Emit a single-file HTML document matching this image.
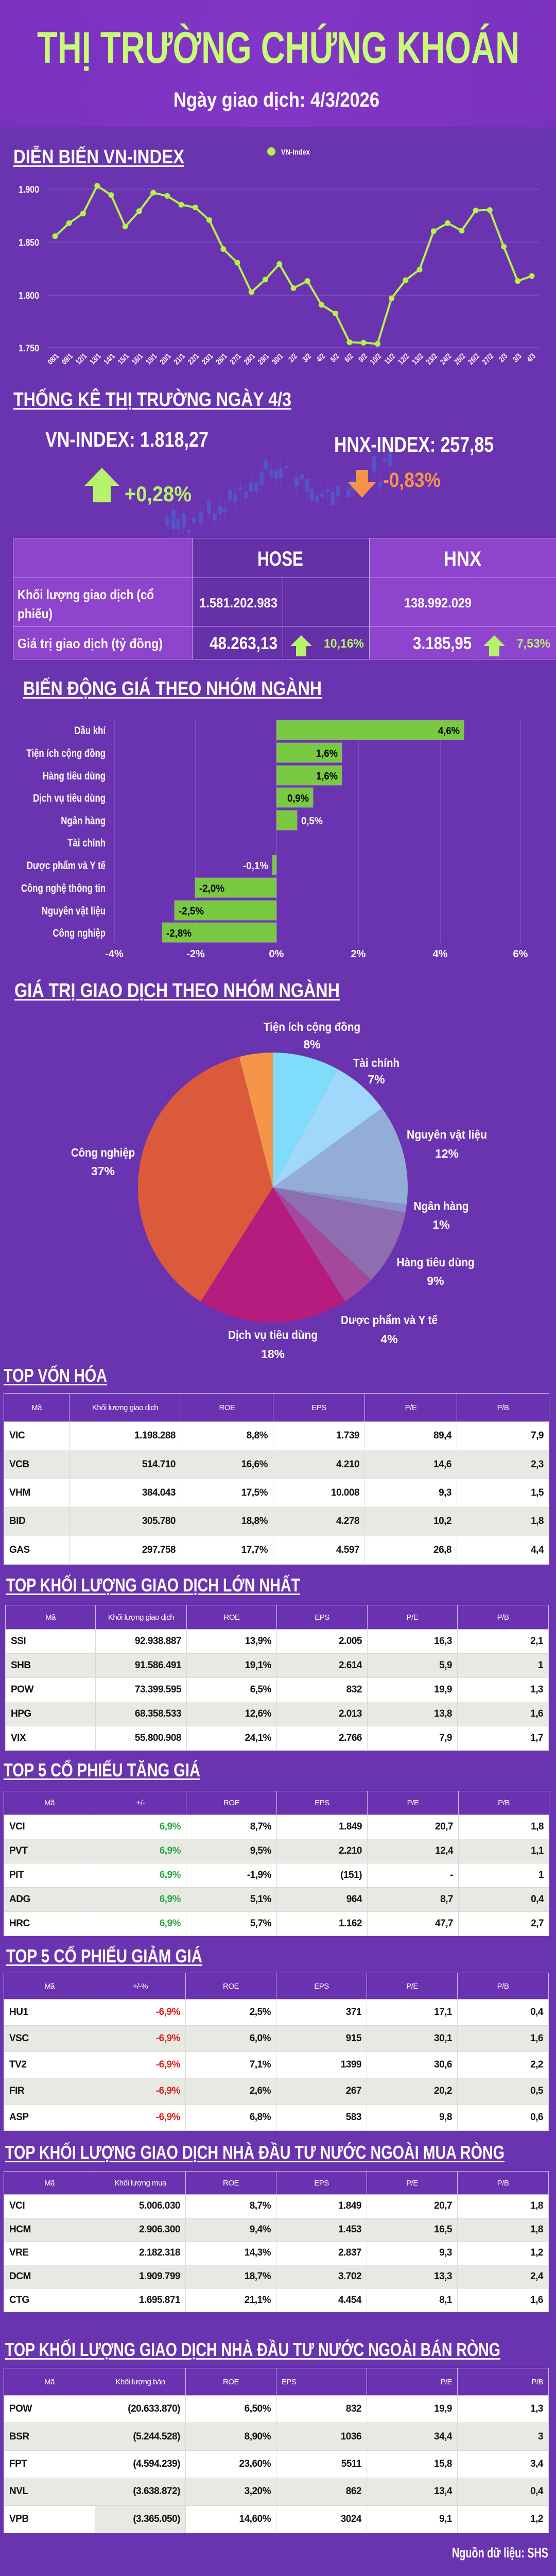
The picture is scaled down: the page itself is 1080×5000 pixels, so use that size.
<!DOCTYPE html>
<html><head><meta charset="utf-8">
<style>
*{margin:0;padding:0;box-sizing:border-box}
body{width:1080px;height:5000px;background:#6a34b0;position:relative;overflow:hidden;font-family:"Liberation Sans Narrow","Liberation Sans","Noto Sans CJK SC",sans-serif;font-weight:bold;color:#fff}
.a{position:absolute;white-space:nowrap}
.fit{transform-origin:0 0}
.st{position:absolute;font-size:38px;line-height:1;text-decoration:underline;text-decoration-thickness:3px;text-underline-offset:4px;color:#fff;white-space:nowrap}
table{position:absolute;border-collapse:collapse;table-layout:fixed}
table.d td{border:1px solid #d9d9d9;font-size:19px;color:#111;text-align:right;padding:0 10px;background:#fff;white-space:nowrap;letter-spacing:-0.5px}
table.d tr:nth-child(odd) td{background:#e6eae3}
table.d tr.h td{background:#6a32b0;color:#fff;text-align:center;font-size:15px;font-weight:normal;border:1px solid #c9b6e6}
table.d td:first-child{text-align:left}
table.d tr.h td:first-child{text-align:center}
.g{color:#2aa84a!important}.r{color:#e0201b!important}
</style></head><body>
<!-- header -->
<div class="a" style="left:0;top:0;width:1080px;height:247px;background:linear-gradient(90deg,#7a31bf,#8336c6 50%,#7a31bf);"></div>
<div class="a fit" style="left:72px;top:50px;font-size:86px;color:#c8fb77;line-height:1;--w:937">THỊ TRƯỜNG CHỨNG KHOÁN</div>
<div class="a fit" style="left:337px;top:174px;font-size:40px;color:#fff;line-height:1;--w:400">Ngày giao dịch: 4/3/2026</div>

<!-- VN-Index chart -->
<div class="st fit" style="left:26px;top:286px;--w:332">DIỄN BIẾN VN-INDEX</div>
<svg class="a" style="left:0;top:0" width="1080" height="730">
<circle cx="527" cy="294" r="8" fill="#b5f24a"/>
<text x="546" y="300" font-size="15" fill="#fff" font-family="Liberation Sans,sans-serif" textLength="56" lengthAdjust="spacingAndGlyphs">VN-Index</text>
<g stroke="#8b5fcb" stroke-width="1"><line x1="93" y1="367" x2="1047" y2="367"/><line x1="93" y1="470" x2="1047" y2="470"/><line x1="93" y1="573" x2="1047" y2="573"/><line x1="93" y1="675" x2="1047" y2="675"/></g>
<g font-size="18" fill="#fff" font-family="Liberation Sans,sans-serif" font-weight="bold"><text x="36" y="374" textLength="40" lengthAdjust="spacingAndGlyphs">1.900</text><text x="36" y="477" textLength="40" lengthAdjust="spacingAndGlyphs">1.850</text><text x="36" y="580" textLength="40" lengthAdjust="spacingAndGlyphs">1.800</text><text x="36" y="682" textLength="40" lengthAdjust="spacingAndGlyphs">1.750</text></g>
<polyline fill="none" stroke="#b5f24a" stroke-width="4" stroke-linejoin="round" points="107,458.5 134.2,433 161.5,414.3 188.7,360.7 215.9,378.6 243.2,439.7 270.4,409.8 297.6,374.1 324.8,380.4 352.1,397.3 379.3,402.7 406.5,427.2 433.8,483.5 461,509.8 488.2,567 515.5,542.4 542.7,512.5 569.9,559.4 597.2,545.5 624.4,591.5 651.6,608.5 678.9,664.3 706.1,665.2 733.3,667.4 760.5,579 787.8,543.8 815,523.2 842.2,448.7 869.5,433 896.7,447.8 923.9,408.5 951.2,407.6 978.4,478.6 1005.6,545.5 1033,535.7"/>
<g fill="#b5f24a" id="pts"></g>
<g font-size="15" fill="#fff" font-family="Liberation Sans,sans-serif" font-weight="bold" text-anchor="end" id="xl"></g>
</svg>

<!-- stats -->
<div class="st fit" style="left:26px;top:757px;--w:540">THỐNG KÊ THỊ TRƯỜNG NGÀY 4/3</div>
<svg class="a" style="left:0;top:860px" width="1080" height="190" id="candles"></svg>
<div class="a fit" style="left:88px;top:832px;font-size:42px;line-height:1;--w:317">VN-INDEX: 1.818,27</div>
<div class="a fit" style="left:649px;top:842px;font-size:42px;line-height:1;--w:310">HNX-INDEX: 257,85</div>
<svg class="a" style="left:160px;top:905px" width="80" height="75"><polygon points="38,3 72,38 55,38 55,70 21,70 21,38 4,38" fill="#b6f36b"/></svg>
<div class="a fit" style="left:242px;top:938px;font-size:42px;color:#b6f36b;line-height:1;--w:130">+0,28%</div>
<svg class="a" style="left:675px;top:910px" width="60" height="60"><polygon points="16,2 40,2 40,26 55,26 28,56 1,26 16,26" fill="#f7924a"/></svg>
<div class="a fit" style="left:744px;top:912px;font-size:40px;color:#f7924a;line-height:1;--w:112">-0,83%</div>

<!-- stats table -->
<div class="a" style="left:25px;top:1044px;width:1055px;height:236px;border-top:2px solid #c7a8ea;border-left:2px solid #c7a8ea;border-bottom:2px solid #c7a8ea"></div>
<div class="a" style="left:26px;top:1045px;width:347px;height:234px;background:#8e44cc"></div>
<div class="a" style="left:373px;top:1045px;width:344px;height:234px;background:#6530a8"></div>
<div class="a" style="left:717px;top:1045px;width:363px;height:234px;background:#8e44cc"></div>
<div class="a" style="left:373px;top:1044px;width:1px;height:236px;background:#c7a8ea"></div>
<div class="a" style="left:717px;top:1044px;width:1px;height:236px;background:#c7a8ea"></div>
<div class="a" style="left:549px;top:1121px;width:1px;height:159px;background:#c7a8ea"></div>
<div class="a" style="left:926px;top:1121px;width:1px;height:159px;background:#c7a8ea"></div>
<div class="a" style="left:25px;top:1121px;width:1055px;height:1px;background:#c7a8ea"></div>
<div class="a" style="left:25px;top:1215px;width:1055px;height:1px;background:#c7a8ea"></div>
<div class="a fit" style="left:500px;top:1065px;font-size:40px;line-height:1;--w:89">HOSE</div>
<div class="a fit" style="left:862px;top:1065px;font-size:40px;line-height:1;--w:73">HNX</div>
<div class="a fit" style="left:34px;top:1141px;font-size:26px;line-height:1;--w:265">Khối lượng giao dịch (cổ</div>
<div class="a fit" style="left:34px;top:1178px;font-size:26px;line-height:1;--w:68">phiếu)</div>
<div class="a fit" style="left:34px;top:1236px;font-size:26px;line-height:1;--w:282">Giá trị giao dịch (tỷ đồng)</div>
<div class="a fit" style="left:387px;top:1157px;font-size:26px;line-height:1;--w:152">1.581.202.983</div>
<div class="a fit" style="left:785px;top:1157px;font-size:26px;line-height:1;--w:131">138.992.029</div>
<div class="a fit" style="left:407px;top:1232px;font-size:34px;line-height:1;--w:132">48.263,13</div>
<div class="a fit" style="left:802px;top:1232px;font-size:34px;line-height:1;--w:114">3.185,95</div>
<svg class="a" style="left:563px;top:1232px" width="46" height="44"><polygon points="22,1 43,22 32,22 32,42 12,42 12,22 1,22" fill="#b6f36b"/></svg>
<div class="a fit" style="left:629px;top:1238px;font-size:24px;color:#b6f36b;line-height:1;--w:78">10,16%</div>
<svg class="a" style="left:938px;top:1232px" width="46" height="44"><polygon points="22,1 43,22 32,22 32,42 12,42 12,22 1,22" fill="#b6f36b"/></svg>
<div class="a fit" style="left:1004px;top:1238px;font-size:24px;color:#b6f36b;line-height:1;--w:65">7,53%</div>

<!-- sector bars -->
<div class="st fit" style="left:45px;top:1318px;--w:580">BIẾN ĐỘNG GIÁ THEO NHÓM NGÀNH</div>
<svg class="a" style="left:0;top:1380px" width="1080" height="500" font-family="Liberation Sans,sans-serif" font-weight="bold">
<g stroke="#8b5fcb"><line x1="222" y1="17" x2="222" y2="450"/><line x1="380" y1="17" x2="380" y2="450"/><line x1="537" y1="17" x2="537" y2="450"/><line x1="696" y1="17" x2="696" y2="450"/><line x1="855" y1="17" x2="855" y2="450"/><line x1="1011" y1="17" x2="1011" y2="450"/></g>
<g fill="#7ac943" stroke="#9a9a9a" stroke-width="1">
<rect x="537" y="18" width="364" height="38"/><rect x="537" y="62" width="127" height="38"/><rect x="537" y="106" width="127" height="38"/><rect x="537" y="149" width="71" height="38"/><rect x="537" y="193" width="40" height="38"/><rect x="529" y="280" width="8" height="38"/><rect x="379" y="324" width="158" height="38"/><rect x="339" y="368" width="198" height="38"/><rect x="315" y="411" width="222" height="38"/></g>
<g font-size="21" fill="#fff" text-anchor="end" transform="translate(205,0) scale(0.8,1) translate(-205,0)"><text x="205" y="45">Dầu khí</text><text x="205" y="89">Tiện ích cộng đồng</text><text x="205" y="133">Hàng tiêu dùng</text><text x="205" y="176">Dịch vụ tiêu dùng</text><text x="205" y="220">Ngân hàng</text><text x="205" y="263">Tài chính</text><text x="205" y="307">Dược phẩm và Y tế</text><text x="205" y="351">Công nghệ thông tin</text><text x="205" y="395">Nguyên vật liệu</text><text x="205" y="438">Công nghiệp</text></g>
<g font-size="20" fill="#000"><text x="893" y="45" text-anchor="end" textLength="42" lengthAdjust="spacingAndGlyphs">4,6%</text><text x="656" y="89" text-anchor="end" textLength="42" lengthAdjust="spacingAndGlyphs">1,6%</text><text x="656" y="133" text-anchor="end" textLength="42" lengthAdjust="spacingAndGlyphs">1,6%</text><text x="600" y="176" text-anchor="end" textLength="42" lengthAdjust="spacingAndGlyphs">0,9%</text><text x="387" y="351" textLength="49" lengthAdjust="spacingAndGlyphs">-2,0%</text><text x="347" y="395" textLength="49" lengthAdjust="spacingAndGlyphs">-2,5%</text><text x="323" y="438" textLength="49" lengthAdjust="spacingAndGlyphs">-2,8%</text></g>
<g font-size="20" fill="#fff"><text x="585" y="220" textLength="42" lengthAdjust="spacingAndGlyphs">0,5%</text><text x="472" y="307" textLength="49" lengthAdjust="spacingAndGlyphs">-0,1%</text></g>
<g font-size="20" fill="#fff" text-anchor="middle"><text x="222" y="478">-4%</text><text x="380" y="478">-2%</text><text x="537" y="478">0%</text><text x="696" y="478">2%</text><text x="855" y="478">4%</text><text x="1011" y="478">6%</text></g>
</svg>

<!-- pie -->
<div class="st fit" style="left:28px;top:1904px;--w:632">GIÁ TRỊ GIAO DỊCH THEO NHÓM NGÀNH</div>
<svg class="a" style="left:0;top:0" width="1080" height="2700" font-family="Liberation Sans,sans-serif" font-weight="bold">
<path d="M530,2305 L530,2043 A262,262 0 0 1 656.2,2075.4Z" fill="#7fdcfb"/>
<path d="M530,2305 L656.2,2075.4 A262,262 0 0 1 742,2151Z" fill="#a0d8fb"/>
<path d="M530,2305 L742,2151 A262,262 0 0 1 789.9,2337.8Z" fill="#93aed6"/>
<path d="M530,2305 L789.9,2337.8 A262,262 0 0 1 787.4,2354.1Z" fill="#8890c8"/>
<path d="M530,2305 L787.4,2354.1 A262,262 0 0 1 721,2484.3Z" fill="#8e6db0"/>
<path d="M530,2305 L721,2484.3 A262,262 0 0 1 670.4,2526.2Z" fill="#a4479d"/>
<path d="M530,2305 L670.4,2526.2 A262,262 0 0 1 389.6,2526.2Z" fill="#b51c7e"/>
<path d="M530,2305 L389.6,2526.2 A262,262 0 0 1 464.8,2051.2Z" fill="#dc5a3c"/>
<path d="M530,2305 L464.8,2051.2 A262,262 0 0 1 530,2043Z" fill="#f5954a"/>
<g font-size="23" fill="#fff" text-anchor="middle">
<text x="606" y="2001" textLength="188" lengthAdjust="spacingAndGlyphs">Tiện ích cộng đồng</text><text x="606" y="2035">8%</text>
<text x="731" y="2071" textLength="90" lengthAdjust="spacingAndGlyphs">Tài chính</text><text x="731" y="2103">7%</text>
<text x="868" y="2210" textLength="156" lengthAdjust="spacingAndGlyphs">Nguyên vật liệu</text><text x="868" y="2247">12%</text>
<text x="857" y="2349" textLength="107" lengthAdjust="spacingAndGlyphs">Ngân hàng</text><text x="857" y="2385">1%</text>
<text x="846" y="2458" textLength="151" lengthAdjust="spacingAndGlyphs">Hàng tiêu dùng</text><text x="846" y="2494">9%</text>
<text x="756" y="2570" textLength="188" lengthAdjust="spacingAndGlyphs">Dược phẩm và Y tế</text><text x="756" y="2607">4%</text>
<text x="530" y="2599" textLength="174" lengthAdjust="spacingAndGlyphs">Dịch vụ tiêu dùng</text><text x="530" y="2636">18%</text>
<text x="200" y="2245" textLength="124" lengthAdjust="spacingAndGlyphs">Công nghiệp</text><text x="200" y="2281">37%</text>
</g></svg>

<!-- Top von hoa -->
<div class="st fit" style="left:7px;top:2652px;font-size:36px;--w:201">TOP VỐN HÓA</div>
<table class="d" style="left:7px;top:2704px;width:1059px">
<colgroup><col style="width:127px"><col style="width:217px"><col style="width:179px"><col style="width:178px"><col style="width:179px"><col style="width:179px"></colgroup>
<tr class="h" style="height:55px"><td>Mã</td><td>Khối lượng giao dịch</td><td>ROE</td><td>EPS</td><td>P/E</td><td>P/B</td></tr>
<tr style="height:55.4px"><td>VIC</td><td>1.198.288</td><td>8,8%</td><td>1.739</td><td>89,4</td><td>7,9</td></tr>
<tr style="height:55.4px"><td>VCB</td><td>514.710</td><td>16,6%</td><td>4.210</td><td>14,6</td><td>2,3</td></tr>
<tr style="height:55.4px"><td>VHM</td><td>384.043</td><td>17,5%</td><td>10.008</td><td>9,3</td><td>1,5</td></tr>
<tr style="height:55.4px"><td>BID</td><td>305.780</td><td>18,8%</td><td>4.278</td><td>10,2</td><td>1,8</td></tr>
<tr style="height:55.4px"><td>GAS</td><td>297.758</td><td>17,7%</td><td>4.597</td><td>26,8</td><td>4,4</td></tr>
</table>

<div class="st fit" style="left:12px;top:3059px;font-size:36px;--w:571">TOP KHỐI LƯỢNG GIAO DỊCH LỚN NHẤT</div>
<table class="d" style="left:10px;top:3115px;width:1055px">
<colgroup><col style="width:175px"><col style="width:177px"><col style="width:175px"><col style="width:176px"><col style="width:175px"><col style="width:177px"></colgroup>
<tr class="h" style="height:47px"><td>Mã</td><td>Khối lượng giao dịch</td><td>ROE</td><td>EPS</td><td>P/E</td><td>P/B</td></tr>
<tr style="height:47px"><td>SSI</td><td>92.938.887</td><td>13,9%</td><td>2.005</td><td>16,3</td><td>2,1</td></tr>
<tr style="height:47px"><td>SHB</td><td>91.586.491</td><td>19,1%</td><td>2.614</td><td>5,9</td><td>1</td></tr>
<tr style="height:47px"><td>POW</td><td>73.399.595</td><td>6,5%</td><td>832</td><td>19,9</td><td>1,3</td></tr>
<tr style="height:47px"><td>HPG</td><td>68.358.533</td><td>12,6%</td><td>2.013</td><td>13,8</td><td>1,6</td></tr>
<tr style="height:47px"><td>VIX</td><td>55.800.908</td><td>24,1%</td><td>2.766</td><td>7,9</td><td>1,7</td></tr>
</table>

<div class="st fit" style="left:7px;top:3418px;font-size:36px;--w:382">TOP 5 CỔ PHIẾU TĂNG GIÁ</div>
<table class="d" style="left:7px;top:3476px;width:1059px">
<colgroup><col style="width:177px"><col style="width:177px"><col style="width:176px"><col style="width:176px"><col style="width:177px"><col style="width:176px"></colgroup>
<tr class="h" style="height:46px"><td>Mã</td><td>+/-</td><td>ROE</td><td>EPS</td><td>P/E</td><td>P/B</td></tr>
<tr style="height:47px"><td>VCI</td><td class="g">6,9%</td><td>8,7%</td><td>1.849</td><td>20,7</td><td>1,8</td></tr>
<tr style="height:47px"><td>PVT</td><td class="g">6,9%</td><td>9,5%</td><td>2.210</td><td>12,4</td><td>1,1</td></tr>
<tr style="height:47px"><td>PIT</td><td class="g">6,9%</td><td>-1,9%</td><td>(151)</td><td>-</td><td>1</td></tr>
<tr style="height:47px"><td>ADG</td><td class="g">6,9%</td><td>5,1%</td><td>964</td><td>8,7</td><td>0,4</td></tr>
<tr style="height:47px"><td>HRC</td><td class="g">6,9%</td><td>5,7%</td><td>1.162</td><td>47,7</td><td>2,7</td></tr>
</table>

<div class="st fit" style="left:12px;top:3779px;font-size:36px;--w:381">TOP 5 CỔ PHIẾU GIẢM GIÁ</div>
<table class="d" style="left:7px;top:3829px;width:1058px">
<colgroup><col style="width:177px"><col style="width:176px"><col style="width:176px"><col style="width:176px"><col style="width:176px"><col style="width:177px"></colgroup>
<tr class="h" style="height:51px"><td>Mã</td><td>+/-%</td><td>ROE</td><td>EPS</td><td>P/E</td><td>P/B</td></tr>
<tr style="height:51px"><td>HU1</td><td class="r">-6,9%</td><td>2,5%</td><td>371</td><td>17,1</td><td>0,4</td></tr>
<tr style="height:51px"><td>VSC</td><td class="r">-6,9%</td><td>6,0%</td><td>915</td><td>30,1</td><td>1,6</td></tr>
<tr style="height:51px"><td>TV2</td><td class="r">-6,9%</td><td>7,1%</td><td>1399</td><td>30,6</td><td>2,2</td></tr>
<tr style="height:51px"><td>FIR</td><td class="r">-6,9%</td><td>2,6%</td><td>267</td><td>20,2</td><td>0,5</td></tr>
<tr style="height:51px"><td>ASP</td><td class="r">-6,9%</td><td>6,8%</td><td>583</td><td>9,8</td><td>0,6</td></tr>
</table>

<div class="st fit" style="left:10px;top:4160px;font-size:36px;--w:970">TOP KHỐI LƯỢNG GIAO DỊCH NHÀ ĐẦU TƯ NƯỚC NGOÀI MUA RÒNG</div>
<table class="d" style="left:7px;top:4214px;width:1058px">
<colgroup><col style="width:177px"><col style="width:176px"><col style="width:176px"><col style="width:176px"><col style="width:176px"><col style="width:177px"></colgroup>
<tr class="h" style="height:45px"><td>Mã</td><td>Khối lượng mua</td><td>ROE</td><td>EPS</td><td>P/E</td><td>P/B</td></tr>
<tr style="height:45.6px"><td>VCI</td><td>5.006.030</td><td>8,7%</td><td>1.849</td><td>20,7</td><td>1,8</td></tr>
<tr style="height:45.6px"><td>HCM</td><td>2.906.300</td><td>9,4%</td><td>1.453</td><td>16,5</td><td>1,8</td></tr>
<tr style="height:45.6px"><td>VRE</td><td>2.182.318</td><td>14,3%</td><td>2.837</td><td>9,3</td><td>1,2</td></tr>
<tr style="height:45.6px"><td>DCM</td><td>1.909.799</td><td>18,7%</td><td>3.702</td><td>13,3</td><td>2,4</td></tr>
<tr style="height:45.6px"><td>CTG</td><td>1.695.871</td><td>21,1%</td><td>4.454</td><td>8,1</td><td>1,6</td></tr>
</table>

<div class="st fit" style="left:10px;top:4543px;font-size:36px;--w:962">TOP KHỐI LƯỢNG GIAO DỊCH NHÀ ĐẦU TƯ NƯỚC NGOÀI BÁN RÒNG</div>
<table class="d" style="left:7px;top:4596px;width:1058px">
<colgroup><col style="width:177px"><col style="width:176px"><col style="width:176px"><col style="width:176px"><col style="width:176px"><col style="width:177px"></colgroup>
<tr class="h" style="height:53px"><td>Mã</td><td>Khối lượng bán</td><td>ROE</td><td style="text-align:left">EPS</td><td style="text-align:right">P/E</td><td style="text-align:right">P/B</td></tr>
<tr style="height:53.4px"><td>POW</td><td>(20.633.870)</td><td>6,50%</td><td>832</td><td>19,9</td><td>1,3</td></tr>
<tr style="height:53.4px"><td>BSR</td><td>(5.244.528)</td><td>8,90%</td><td>1036</td><td>34,4</td><td>3</td></tr>
<tr style="height:53.4px"><td>FPT</td><td>(4.594.239)</td><td>23,60%</td><td>5511</td><td>15,8</td><td>3,4</td></tr>
<tr style="height:53.4px"><td>NVL</td><td>(3.638.872)</td><td>3,20%</td><td>862</td><td>13,4</td><td>0,4</td></tr>
<tr style="height:53.4px"><td>VPB</td><td style="background:#e6eae3">(3.365.050)</td><td>14,60%</td><td>3024</td><td>9,1</td><td>1,2</td></tr>
</table>

<div class="a fit" style="left:878px;top:4942px;font-size:27px;line-height:1;--w:187">Nguồn dữ liệu: SHS</div>

<script>
(function(){
var ys=[458.5,433,414.3,360.7,378.6,439.7,409.8,374.1,380.4,397.3,402.7,427.2,483.5,509.8,567,542.4,512.5,559.4,545.5,591.5,608.5,664.3,665.2,667.4,579,543.8,523.2,448.7,433,447.8,408.5,407.6,478.6,545.5,535.7];
var lb=["08/1","09/1","12/1","13/1","14/1","15/1","16/1","19/1","20/1","21/1","22/1","23/1","26/1","27/1","28/1","29/1","30/1","2/2","3/2","4/2","5/2","6/2","9/2","10/2","11/2","12/2","13/2","23/2","24/2","25/2","26/2","27/2","2/3","3/3","4/3"];
var ns="http://www.w3.org/2000/svg",p=document.getElementById("pts"),xl=document.getElementById("xl");
for(var i=0;i<35;i++){var x=107+i*(926/34);
var c=document.createElementNS(ns,"circle");c.setAttribute("cx",x);c.setAttribute("cy",ys[i]);c.setAttribute("r",5.5);p.appendChild(c);
var t=document.createElementNS(ns,"text");t.setAttribute("transform","translate("+(x+8)+",692) rotate(-45) scale(0.8,1)");t.textContent=lb[i];xl.appendChild(t);}
var cd=[[325,1003,1020],[337,990,1027],[346,1008,1027],[357,997,1023],[367,1028,1035],[377,1005,1015],[390,993,1015],[406,972,998],[417,998,1010],[428,982,998],[437,986,993],[447,950,970],[457,960,975],[467,946,951],[478,955,967],[488,935,953],[498,938,955],[508,915,942],[516,893,911],[527,912,925],[536,912,930],[545,908,928],[556,904,909],[576,927,943],[587,921,930],[597,930,955],[606,950,970],[616,962,975],[626,958,965],[636,950,955],[646,955,980],[656,944,963],[677,950,965],[686,930,952],[708,930,945],[727,885,915],[738,935,945],[747,889,894],[757,870,905]];
var s=document.getElementById("candles");
cd.forEach(function(k){var l=document.createElementNS(ns,"line");l.setAttribute("x1",k[0]);l.setAttribute("x2",k[0]);l.setAttribute("y1",k[1]-15-860);l.setAttribute("y2",k[2]+15-860);l.setAttribute("stroke","#5a60cf");l.setAttribute("opacity","0.5");s.appendChild(l);
var r=document.createElementNS(ns,"rect");r.setAttribute("x",k[0]-4);r.setAttribute("y",k[1]-860);r.setAttribute("width",8);r.setAttribute("height",k[2]-k[1]);r.setAttribute("fill","#4e5fd2");r.setAttribute("opacity","0.7");s.appendChild(r);});
var f=document.querySelectorAll(".fit");
for(var j=0;j<f.length;j++){var el=f[j];var w=parseFloat(getComputedStyle(el).getPropertyValue("--w"));var cw=el.getBoundingClientRect().width;if(w&&cw){el.style.transform="scaleX("+(w/cw)+")";}}
})();
</script>
</body></html>
